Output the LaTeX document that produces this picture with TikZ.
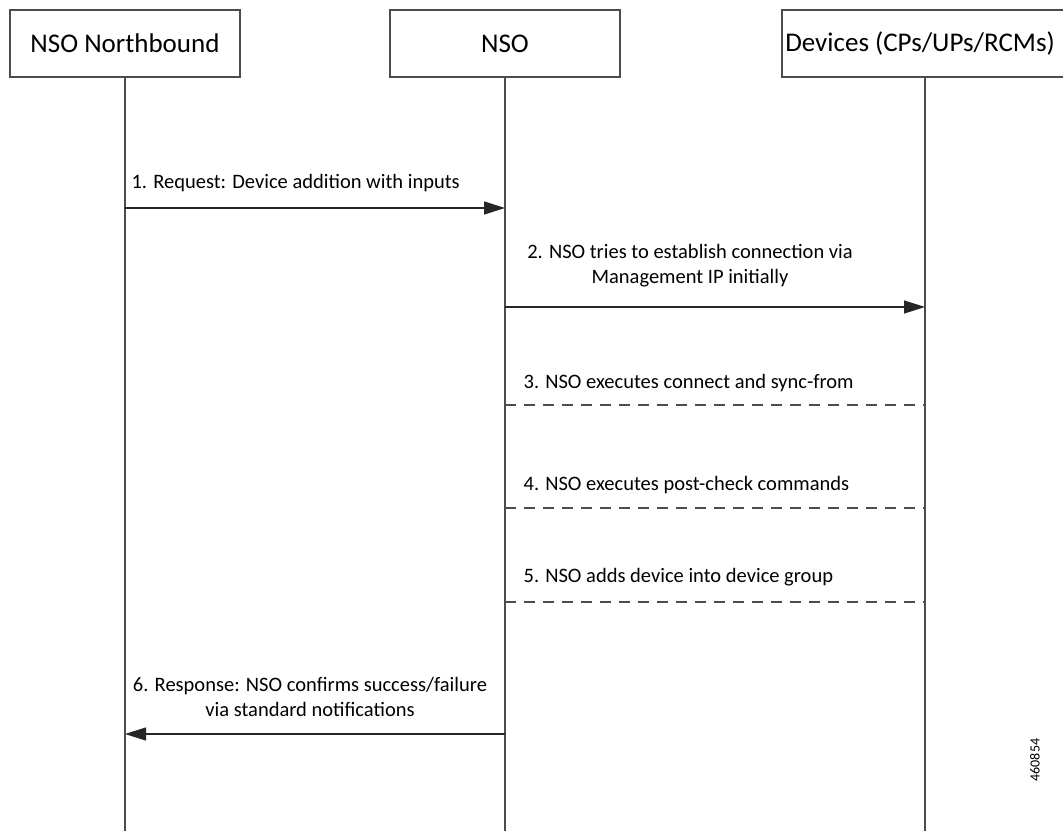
\documentclass[tikz,border=0pt]{standalone}
\usepackage{fontspec}
\setmainfont{Carlito}
\usetikzlibrary{arrows.meta}

\begin{document}
\begin{tikzpicture}[x=1pt,y=-1pt,
    actor/.style={draw=black!70,line width=1.3pt,minimum height=67pt,inner sep=0pt,font=\fontsize{27}{32}\selectfont},
    life/.style={draw=black!70,line width=1.2pt},
    msg/.style={draw=black!85,line width=1.2pt,-{Triangle[length=21pt,width=13pt]}},
    ret/.style={draw=black!70,line width=1.2pt,dash pattern=on 11pt off 8pt},
    lbl/.style={inner sep=0pt,font=\fontsize{20.5}{25}\selectfont}]
      \clip (0,0) rectangle (1063,831);
      \node (nb) [actor,minimum width=230pt] at (125,43.5) {NSO Northbound};
      \node (nso) [actor,minimum width=230pt] at (505,43.5) {NSO};
      \node (dev) [actor,minimum width=286pt] at (925,43.5) {\hspace*{-10pt}Devices (CPs/UPs/RCMs)};

      \draw [life] (nb.south) -- (nb.south |- 0,831);
      \draw [life] (nso.south) -- (nso.south |- 0,831);
      \draw [life] (dev.south) -- (dev.south |- 0,831);

      \draw [msg] (nb |- 0,208) -- (nso |- 0,208) node (l1) [lbl,anchor=west] at (131,183) {1. Request: Device addition with inputs};
      \draw [msg] (nso |- 0,307) -- (dev |- 0,307) node (l2) [lbl,align=center] at (690,266) {2. NSO tries to establish connection via\\Management IP initially};
      \draw [ret] (nso |- 0,405) -- (dev |- 0,405) node (l3) [lbl,anchor=west] at (523,383) {3. NSO executes connect and sync-from};
      \draw [ret] (nso |- 0,508) -- (dev |- 0,508) node (l4) [lbl,anchor=west] at (523,485) {4. NSO executes post-check commands};
      \draw [ret] (nso |- 0,602) -- (dev |- 0,602) node (l5) [lbl,anchor=west] at (523,577) {5. NSO adds device into device group};
      \draw [msg] (nso |- 0,734) -- (nb |- 0,734) node (l6) [lbl,align=center] at (310,697) {6. Response: NSO confirms success/failure\\via standard notifications};

      \node (fig) [rotate=90,inner sep=0pt,font=\fontsize{14}{16}\selectfont] at (1035,760) {460854};
    \end{tikzpicture}
\end{document}
